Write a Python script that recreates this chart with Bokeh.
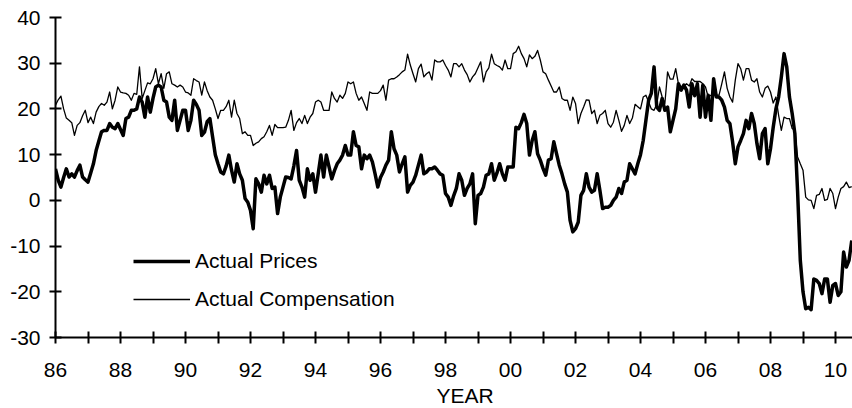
from bokeh.plotting import figure
from bokeh.models import Range1d, FixedTicker, Legend, LegendItem, Title, ColumnDataSource
from bokeh.embed import file_html
from bokeh.resources import INLINE

FONT = "Liberation Sans"

# Monthly series, starting January 1986 (one row per year)
start_year = 1986

actual_prices = [
    6.9, 4.4, 2.9, 5.0, 6.9, 5.1, 5.8, 5.1, 6.5, 7.7, 5.1, 4.5,          # 1986
    4.0, 6.0, 8.0, 10.9, 13.0, 15.0, 15.3, 15.3, 16.8, 16.0, 15.7, 16.8,  # 1987
    15.5, 14.2, 17.9, 18.2, 19.7, 19.7, 20.0, 22.6, 21.5, 18.2, 22.6, 19.3,  # 1988
    22.3, 24.8, 25.2, 24.8, 21.9, 21.5, 18.2, 17.5, 21.9, 15.3, 17.5, 19.7,  # 1989
    19.7, 15.3, 17.5, 21.9, 21.0, 19.7, 14.2, 14.9, 17.2, 17.9, 13.9, 10.0,  # 1990
    8.0, 6.2, 5.8, 7.5, 9.9, 6.6, 4.0, 8.0, 5.8, 4.4, 0.4, -0.4,          # 1991
    -2.2, -6.2, 4.7, 3.6, 1.8, 5.5, 3.6, 5.5, 2.6, 2.9, -2.9, 0.7,        # 1992
    2.9, 5.1, 5.0, 4.7, 7.5, 10.9, 4.4, 2.9, 0.7, 6.9, 4.4, 5.8,          # 1993
    1.8, 5.8, 9.9, 5.1, 9.9, 7.3, 4.7, 6.5, 8.0, 8.8, 9.9, 12.0,          # 1994
    9.9, 9.9, 15.0, 12.0, 11.7, 6.9, 9.9, 9.1, 9.9, 8.4, 5.8, 2.9,        # 1995
    5.0, 6.2, 7.7, 8.8, 15.0, 11.3, 9.9, 6.2, 8.0, 9.5, 1.8, 3.3,         # 1996
    4.0, 5.5, 7.7, 9.9, 5.8, 6.2, 6.9, 6.9, 7.3, 6.6, 5.8, 5.5,           # 1997
    1.5, 0.7, -1.1, 1.0, 2.6, 5.8, 4.4, 1.1, 2.6, 3.6, 5.8, -5.1,         # 1998
    1.1, 1.5, 2.9, 5.5, 5.8, 8.0, 4.4, 6.0, 8.0, 5.8, 4.4, 7.3,           # 1999
    7.3, 7.3, 16.0, 15.7, 17.0, 18.8, 16.8, 9.9, 13.1, 15.0, 10.2, 8.8,   # 2000
    7.0, 5.5, 8.8, 9.1, 12.8, 10.2, 7.7, 5.8, 3.6, 1.8, -4.4, -6.9,       # 2001
    -6.2, -4.8, 1.1, 2.2, 5.8, 2.9, 1.8, 2.2, 5.8, 2.2, -1.8, -1.5,       # 2002
    -1.5, -1.1, 0.0, 0.7, 2.6, 1.5, 4.0, 4.4, 8.0, 6.9, 5.8, 8.0,         # 2003
    10.0, 13.1, 17.5, 21.9, 23.4, 29.2, 20.4, 19.7, 22.3, 19.7, 20.4, 15.0,  # 2004
    17.5, 20.0, 25.5, 24.1, 25.2, 24.1, 20.4, 25.5, 22.9, 25.5, 18.2, 25.2,  # 2005
    18.2, 23.0, 17.5, 26.6, 22.6, 22.6, 21.9, 20.4, 17.5, 16.8, 12.8, 8.0,   # 2006
    11.7, 13.1, 14.6, 17.5, 15.7, 19.0, 16.8, 12.4, 9.1, 14.6, 15.7, 8.0,    # 2007
    11.3, 16.0, 20.0, 22.6, 27.0, 32.1, 29.2, 22.6, 19.0, 14.6, 2.0, -13.1,  # 2008
    -20.0, -23.7, -23.4, -23.9, -17.2, -17.5, -18.2, -20.4, -17.2, -17.2, -22.3, -18.6,  # 2009
    -18.2, -20.8, -20.0, -11.3, -14.6, -13.1, -8.8,                        # 2010
]

actual_compensation = [
    20.8, 22.0, 22.8, 20.0, 18.0, 17.5, 17.0, 14.2, 16.4, 17.0, 18.5, 19.7,  # 1986
    17.0, 18.2, 16.8, 19.3, 20.5, 21.2, 20.8, 21.5, 23.7, 20.0, 21.9, 24.8,  # 1987
    23.7, 23.5, 23.4, 23.0, 21.9, 23.4, 23.2, 29.2, 22.3, 24.0, 25.7, 25.5,  # 1988
    26.6, 28.8, 25.5, 27.7, 24.5, 27.7, 28.1, 25.5, 25.2, 24.8, 25.2, 24.8,  # 1989
    23.7, 23.5, 23.0, 26.6, 26.2, 25.9, 23.0, 25.9, 24.0, 22.6, 21.9, 20.0,  # 1990
    17.9, 19.7, 19.7, 20.5, 21.9, 18.2, 21.9, 19.0, 17.9, 14.6, 15.0, 14.2,  # 1991
    14.2, 12.0, 12.5, 12.8, 13.5, 13.9, 15.0, 16.4, 14.2, 16.6, 15.9, 15.9,  # 1992
    15.9, 16.0, 17.5, 19.7, 15.3, 17.0, 17.9, 16.8, 18.6, 16.8, 18.2, 19.0,  # 1993
    21.5, 21.9, 21.5, 19.7, 19.7, 19.7, 23.7, 22.3, 21.5, 23.0, 22.3, 23.4,  # 1994
    25.9, 25.5, 25.9, 23.4, 21.9, 22.6, 21.2, 19.7, 23.7, 23.4, 23.4, 23.4,  # 1995
    24.0, 25.2, 21.9, 26.3, 26.6, 26.6, 27.0, 27.5, 28.1, 28.5, 32.0, 29.6,  # 1996
    27.7, 25.9, 28.8, 29.8, 27.0, 27.7, 28.1, 26.3, 30.7, 30.3, 30.3, 30.7,  # 1997
    29.5, 28.5, 27.0, 29.9, 29.9, 29.2, 29.9, 28.5, 27.5, 25.9, 27.0, 27.7,  # 1998
    29.0, 30.3, 25.9, 28.1, 29.0, 32.0, 29.9, 29.5, 29.2, 28.5, 30.7, 28.8,  # 1999
    28.8, 32.1, 32.5, 33.7, 32.1, 31.0, 29.2, 31.8, 31.0, 31.5, 32.8, 30.7,  # 2000
    28.1, 27.7, 26.3, 25.0, 23.7, 23.7, 24.8, 22.3, 21.9, 21.9, 19.7, 22.6,  # 2001
    21.2, 16.8, 19.0, 20.4, 22.0, 21.9, 19.0, 19.7, 16.8, 18.6, 19.0, 19.7,  # 2002
    16.8, 16.0, 17.1, 19.7, 17.5, 15.1, 16.4, 18.6, 16.8, 18.0, 21.0, 20.5,  # 2003
    20.0, 22.6, 23.0, 21.5, 20.0, 19.7, 21.0, 24.8, 22.6, 21.2, 28.1, 26.5,  # 2004
    26.5, 28.8, 25.5, 24.1, 25.0, 25.5, 25.0, 26.6, 26.0, 26.0, 26.0, 25.5,  # 2005
    24.8, 22.6, 23.0, 23.0, 23.0, 23.0, 25.5, 28.1, 24.5, 22.6, 21.5, 26.3,  # 2006
    29.9, 28.8, 26.3, 28.8, 28.8, 26.3, 25.9, 26.6, 23.7, 22.6, 24.5, 25.0,  # 2007
    23.7, 21.3, 22.6, 18.6, 15.3, 18.2, 17.9, 17.9, 15.7, 15.3, 9.5, 8.0,    # 2008
    6.6, 0.7, 0.1, 0.0, -1.8, 1.1, 1.3, 2.6, 0.0, 0.2, 2.6, 1.5,            # 2009
    -1.8, 0.7, 2.6, 3.0, 4.0, 2.8, 3.0,                                     # 2010
]

x_major_ticks = list(range(1986, 2011, 2))
x_minor_ticks = list(range(1987, 2011, 2))
x_tick_labels = ["86", "88", "90", "92", "94", "96", "98", "00", "02", "04", "06", "08", "10"]
y_ticks = [-30, -20, -10, 0, 10, 20, 30, 40]
y_tick_labels = ["-30", "-20", "-10", "0", "10", "20", "30", "40"]
series_names = ["Actual Prices", "Actual Compensation"]
x_axis_title = "YEAR"

months = [start_year + i / 12 for i in range(len(actual_prices))]
src = ColumnDataSource(dict(year=months, prices=actual_prices, comp=actual_compensation))

p = figure(width=852, height=408,
           x_range=Range1d(1986, 2010.523), y_range=Range1d(-30, 40),
           output_backend="svg", toolbar_location=None,
           min_border_left=55, min_border_right=0, min_border_top=17, min_border_bottom=71)
p.xgrid.visible = False
p.ygrid.visible = False
p.outline_line_color = None
p.background_fill_color = "white"
p.border_fill_color = "white"

r_comp = p.line("year", "comp", source=src, line_color="black", line_width=1.3, line_join="round")
r_prices = p.line("year", "prices", source=src, line_color="black", line_width=3.5, line_join="round")

for ax in (p.xaxis[0], p.yaxis[0]):
    ax.axis_line_color = "black"
    ax.axis_line_width = 2
    ax.major_tick_line_color = "black"
    ax.major_tick_line_width = 2
    ax.major_tick_in = 6
    ax.major_tick_out = 6
    ax.major_label_text_font = FONT
    ax.major_label_text_font_size = "21px"
    ax.major_label_text_color = "black"

p.xaxis.ticker = FixedTicker(ticks=x_major_ticks, minor_ticks=x_minor_ticks)
p.xaxis.major_label_overrides = {t: l for t, l in zip(x_major_ticks, x_tick_labels)}
p.xaxis.minor_tick_line_color = "black"
p.xaxis.minor_tick_line_width = 2
p.xaxis.minor_tick_in = 6
p.xaxis.minor_tick_out = 6
p.xaxis.major_label_standoff = 19

p.yaxis.ticker = FixedTicker(ticks=y_ticks)
p.yaxis.major_label_overrides = {t: l for t, l in zip(y_ticks, y_tick_labels)}
p.yaxis.minor_tick_line_color = None
p.yaxis.major_label_standoff = 9

p.add_layout(Title(text=x_axis_title, align="left", offset=381, standoff=4,
                   text_font=FONT, text_font_size="21px", text_font_style="normal",
                   text_color="black"), "below")

legend = Legend(items=[LegendItem(label=series_names[0], renderers=[r_prices]),
                       LegendItem(label=series_names[1], renderers=[r_comp])],
                location=(78, 26), orientation="vertical",
                border_line_color=None, background_fill_alpha=0,
                label_text_font=FONT, label_text_font_size="21px", label_text_color="black",
                glyph_width=57, glyph_height=24, label_height=24, label_standoff=5,
                spacing=14, padding=0, margin=0)
p.add_layout(legend)

open("out.html", "w").write(file_html(p, INLINE))
